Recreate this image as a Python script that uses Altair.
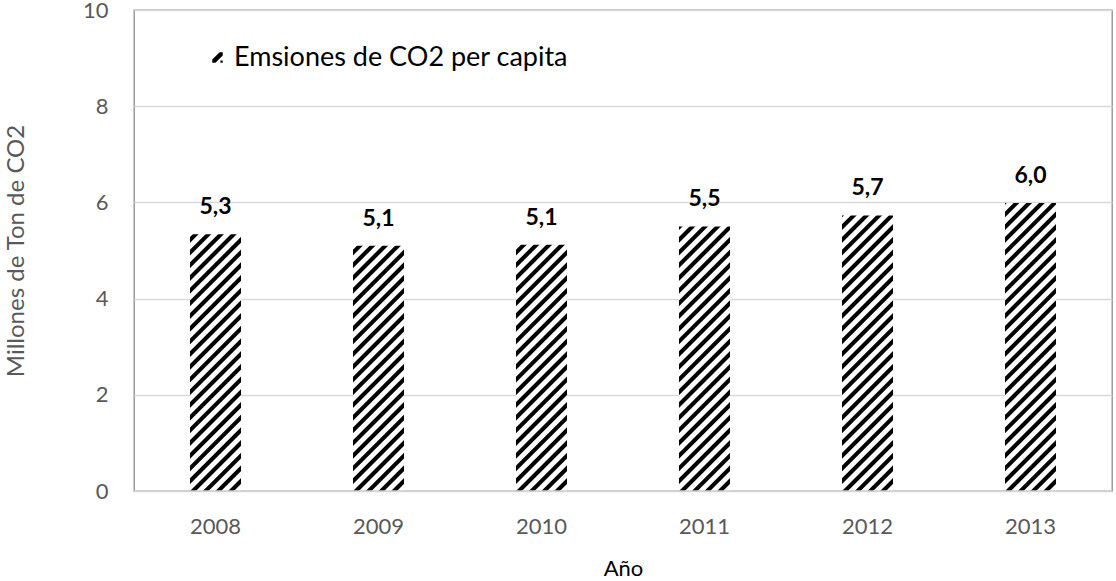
import altair as alt
import pandas as pd

# ---------------- data ----------------
years = ["2008", "2009", "2010", "2011", "2012", "2013"]
values = [5.34, 5.10, 5.12, 5.50, 5.73, 5.99]
y_ticks = [0, 2, 4, 6, 8, 10]
series_name = "Emsiones de CO2 per capita"
y_title = "Millones de Ton de CO2"
x_title = "Año"

# ---------------- layout / style ----------------
W, H = 978, 481
Y_MAX = 10
PX_PER_UNIT = H / Y_MAX
PAD_INNER = 0.687
STEP = W / len(years)
BAR_W = STEP * (1 - PAD_INNER)
FONT = "Lato"
FS = 22
GRAY = "#595959"

PERIOD = 12.7   # horizontal period of the hatch, px
DARK = 5.8      # dark part (incl. one ramp), px along x+y
RAMP = 1.4


def _level(u, h):
    m = (u - h + RAMP / 2) % PERIOD
    if m < RAMP:
        return m / RAMP
    if m < DARK:
        return 1.0
    if m < DARK + RAMP:
        return 1 - (m - DARK) / RAMP
    return 0.0


def _gray(lv):
    g = int(round(255 * (1 - lv)))
    return "#{0:02x}{0:02x}{0:02x}".format(g)


def hatch(w, h):
    """Diagonal '/' hatch as a linear gradient at 45 degrees in pixel space."""
    L = w + h
    pts = {0.0, L}
    k0 = int(-h // PERIOD) - 2
    k1 = int(w // PERIOD) + 2
    for k in range(k0, k1 + 1):
        base = h + k * PERIOD - RAMP / 2
        for e in (0, RAMP, DARK, DARK + RAMP):
            u = base + e
            if 0 < u < L:
                pts.add(u)
    stops = [{"offset": round(u / L, 5), "color": _gray(_level(u, h))} for u in sorted(pts)]
    k = L / (w * w + h * h)
    return {"gradient": "linear", "x1": 0, "y1": 0, "x2": round(k * w, 5),
            "y2": round(k * h, 5), "stops": stops}


LEGEND_PATH = ("M-1,0.4L0.4,-1L1,-1L1,-0.4L-0.4,1L-1,1Z"
               "M0.55,0.55L1,0.55L1,1L0.55,1Z")

df = pd.DataFrame({"year": years, "value": values, "serie": [series_name] * len(years)})

x_enc = alt.X(
    "year:N",
    scale=alt.Scale(domain=years, paddingInner=PAD_INNER, paddingOuter=PAD_INNER / 2),
    axis=alt.Axis(labelAngle=0, domain=False, ticks=False, tickSize=0, grid=False,
                  labelPadding=25, labelColor=GRAY, labelFont=FONT, labelFontSize=FS,
                  title=x_title, titleFont=FONT, titleFontSize=FS, titleColor="black",
                  titleFontWeight="normal", titleX=W / 2, titleY=84,
                  titleBaseline="alphabetic"),
)
y_enc = alt.Y(
    "value:Q",
    scale=alt.Scale(domain=[0, Y_MAX], nice=False, zero=True),
    axis=alt.Axis(values=y_ticks, grid=True, gridColor="#d9d9d9", gridWidth=1.3,
                  domain=False, ticks=False, tickSize=0, labelPadding=26,
                  labelColor=GRAY, labelFont=FONT, labelFontSize=FS,
                  title=y_title, titleFont=FONT, titleFontSize=24, titleColor=GRAY,
                  titleFontWeight="normal", titleAngle=-90, titleX=-111, titleY=H / 2,
                  titleBaseline="alphabetic", titleAlign="center"),
)

base = alt.Chart(df)

bar_layers = [
    base.transform_filter(alt.datum.year == yr)
    .mark_bar(fill=hatch(BAR_W, v * PX_PER_UNIT))
    .encode(x=x_enc, y=y_enc)
    for yr, v in zip(years, values)
]

labels = (
    base.transform_calculate(lab="replace(format(datum.value, '.1f'), '.', ',')")
    .mark_text(font=FONT, fontSize=23, fontWeight="bold", color="black",
               baseline="alphabetic", dy=-20)
    .encode(x=x_enc, y=y_enc, text="lab:N")
)

zero_line = alt.Chart(pd.DataFrame({"z": [0]})).mark_rule(
    color="#d0d0d0", strokeWidth=1.6).encode(y=alt.datum(0))

legend_layer = base.mark_point(filled=True, size=0, fill="black", opacity=1).encode(
    x=x_enc, y=y_enc,
    shape=alt.Shape("serie:N",
                    scale=alt.Scale(domain=[series_name], range=[LEGEND_PATH]),
                    legend=alt.Legend(orient="none", legendX=70, legendY=34, title=None,
                                      symbolSize=110, symbolFillColor="black",
                                      symbolStrokeWidth=0, labelFont=FONT,
                                      labelFontSize=27, labelColor="black",
                                      labelOffset=3, padding=0, labelLimit=0)),
)

chart = alt.layer(*bar_layers, labels, zero_line, legend_layer).properties(
    width=W, height=H,
    autosize=alt.AutoSizeParams(type="none"),
    padding={"left": 134, "top": 10, "right": 4, "bottom": 90},
    background="white",
).configure_view(stroke="#8c8c8c", strokeWidth=1.3)

chart.save("out.html", embed_options={"renderer": "svg", "actions": False})
